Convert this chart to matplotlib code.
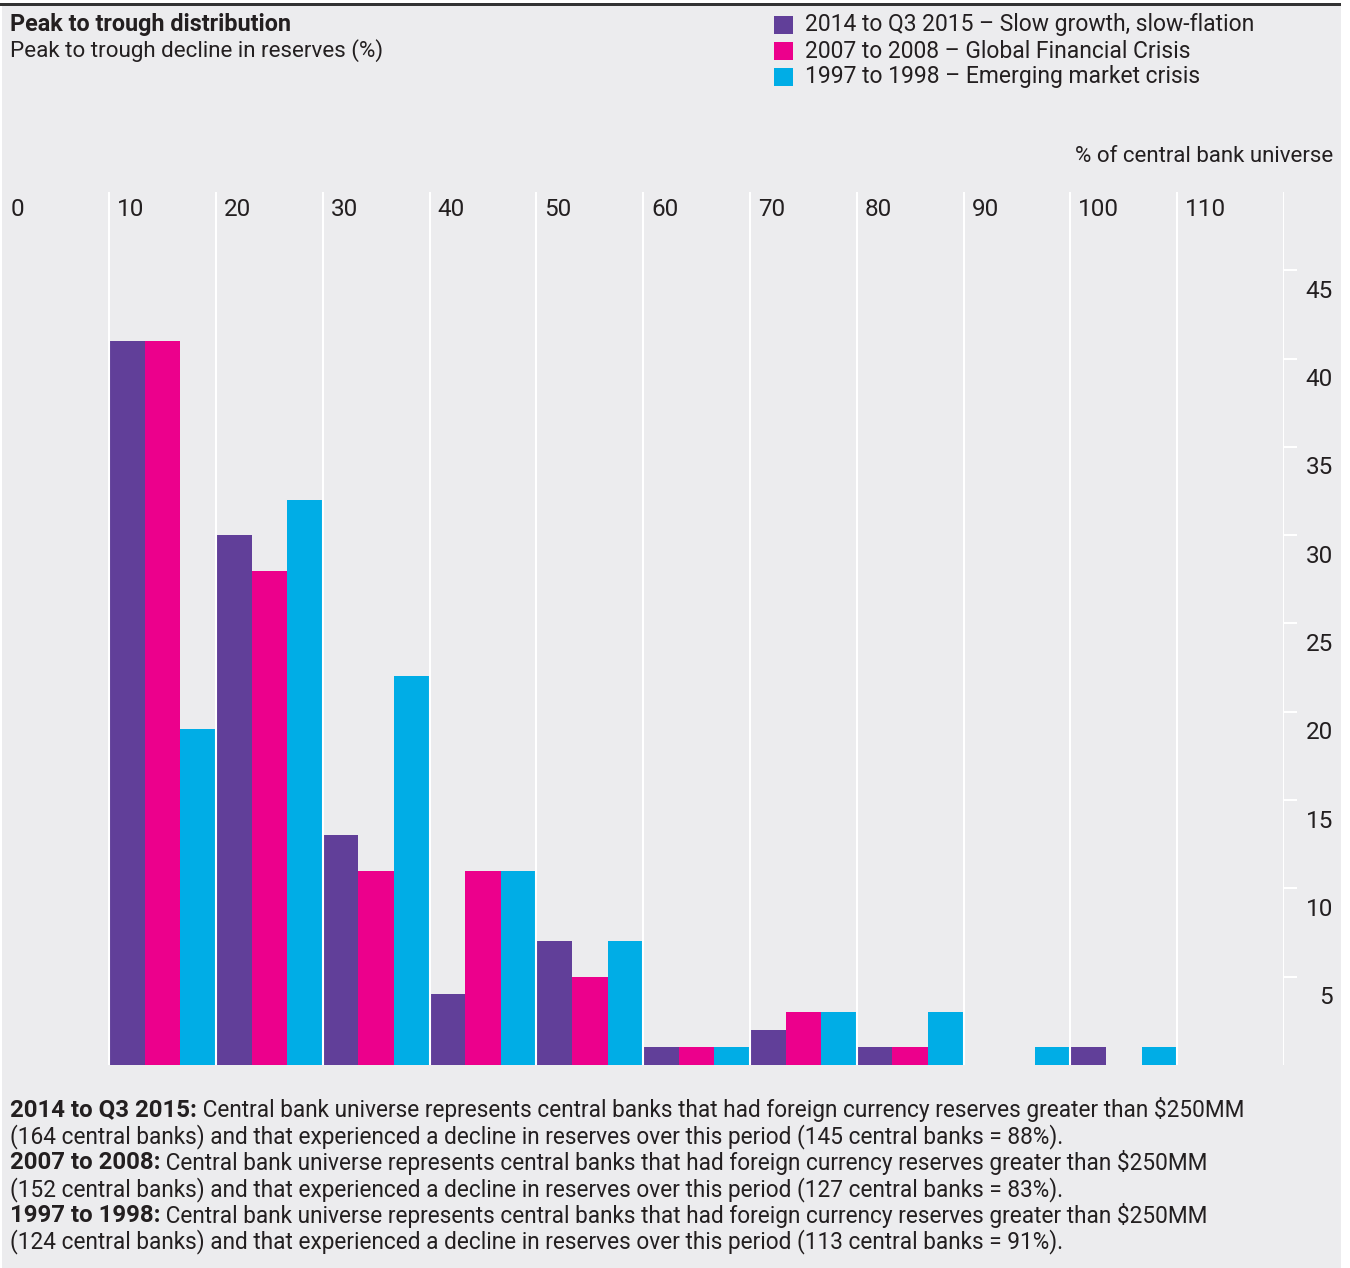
import matplotlib
matplotlib.use("Agg")
import matplotlib.pyplot as plt
from matplotlib.patches import Rectangle
import numpy as np

plt.rcParams['font.family'] = ['Roboto', 'DejaVu Sans']

# peak-to-trough decline bins (left edge, %)
bins = [10, 20, 30, 40, 50, 60, 70, 80, 90, 100]
slow_growth = [41, 30, 13, 4, 7, 1, 2, 1, 0, 1]
gfc = [41, 28, 11, 11, 5, 1, 3, 1, 0, 0]
em_crisis = [19, 32, 22, 11, 7, 1, 3, 3, 1, 1]
series_labels = ["2014 to Q3 2015 \u2013 Slow growth, slow-flation",
                 "2007 to 2008 \u2013 Global Financial Crisis",
                 "1997 to 1998 \u2013 Emerging market crisis"]
colors = ['#613F99', '#EC008C', '#00ADE6']
x_ticks = [0, 10, 20, 30, 40, 50, 60, 70, 80, 90, 100, 110]
y_ticks = [5, 10, 15, 20, 25, 30, 35, 40, 45]

notes = [
    ("2014 to Q3 2015:", " Central bank universe represents central banks that had foreign currency reserves greater than $250MM"),
    ("", "(164 central banks) and that experienced a decline in reserves over this period (145 central banks = 88%)."),
    ("2007 to 2008:", " Central bank universe represents central banks that had foreign currency reserves greater than $250MM"),
    ("", "(152 central banks) and that experienced a decline in reserves over this period (127 central banks = 83%)."),
    ("1997 to 1998:", " Central bank universe represents central banks that had foreign currency reserves greater than $250MM"),
    ("", "(124 central banks) and that experienced a decline in reserves over this period (113 central banks = 91%)."),
]

W, H = 1350, 1268
bg = '#ECECEE'
txt = '#231F20'

fig = plt.figure(figsize=(W / 100, H / 100), dpi=100)
fig.patch.set_facecolor('white')
fig.patches.append(Rectangle((2 / W, 0), 1339 / W, (H - 6) / H, transform=fig.transFigure,
                             facecolor=bg, edgecolor='none', zorder=-10))
fig.patches.append(Rectangle((0, (H - 6) / H), 1341 / W, 3 / H, transform=fig.transFigure,
                             facecolor='#333333', edgecolor='none', zorder=-10))

ax = fig.add_axes([2.4 / W, 203 / H, (1284 - 2.4) / W, (1065 - 192) / H])
ax.set_facecolor('none')
ax.set_xlim(0, 120)
ax.set_ylim(0, 873 / 17.66)

w = 10 / 3
for i, (vals, col) in enumerate(zip([slow_growth, gfc, em_crisis], colors)):
    ax.bar(np.array(bins) + i * w, vals, width=w, align='edge', color=col, lw=0, zorder=2)

for t in x_ticks[1:] + [120]:
    ax.axvline(t, color='white', lw=1.5, zorder=3)

for s in ax.spines.values():
    s.set_visible(False)
ax.set_xticks([])
ax.yaxis.tick_right()
ax.set_yticks(y_ticks)
ax.tick_params(axis='y', length=9.5, width=1.5, color='white', labelright=False, direction='out')

for v in y_ticks:
    ax.annotate(str(v), xy=(1, v), xycoords=('axes fraction', 'data'), xytext=(49, -21),
                textcoords='offset pixels', ha='right', va='center', fontsize=17.5, color=txt)
for t in x_ticks:
    ax.annotate(str(t), xy=(t, 1), xycoords=('data', 'axes fraction'), xytext=(8, -18),
                textcoords='offset pixels', ha='left', va='center', fontsize=17.5, color=txt)

fig.text(1333 / W, 1 - 157 / H, "% of central bank universe", ha='right', va='center',
         fontsize=16, color=txt)

# titles
fig.text(10 / W, 1 - 25 / H, "Peak to trough distribution", ha='left', va='center',
         fontsize=16.8, weight='bold', color=txt)
fig.text(10 / W, 1 - 51 / H, "Peak to trough decline in reserves (%)", ha='left', va='center',
         fontsize=16.1, color=txt)

# legend
for i, (lab, col) in enumerate(zip(series_labels, colors)):
    yc = 25 + 26 * i
    fig.patches.append(Rectangle((774 / W, 1 - (yc + 9) / H), 19 / W, 18 / H,
                                 transform=fig.transFigure, facecolor=col, edgecolor='none'))
    fig.text(805 / W, 1 - yc / H, lab, ha='left', va='center', fontsize=16.5, color=txt)

# footnotes
for i, (b, rest) in enumerate(notes):
    yc = 1110 + 26.4 * i
    if b:
        t = fig.text(10 / W, 1 - yc / H, b, ha='left', va='center', fontsize=17.3,
                     weight='bold', color=txt)
        ax.annotate(rest, xy=(1, 0.5), xycoords=t, ha='left', va='center', fontsize=16.3,
                    color=txt, annotation_clip=False)
    else:
        fig.text(10 / W, 1 - yc / H, rest, ha='left', va='center', fontsize=16.3, color=txt)

fig.savefig("out.png", dpi=100, facecolor=fig.get_facecolor())
